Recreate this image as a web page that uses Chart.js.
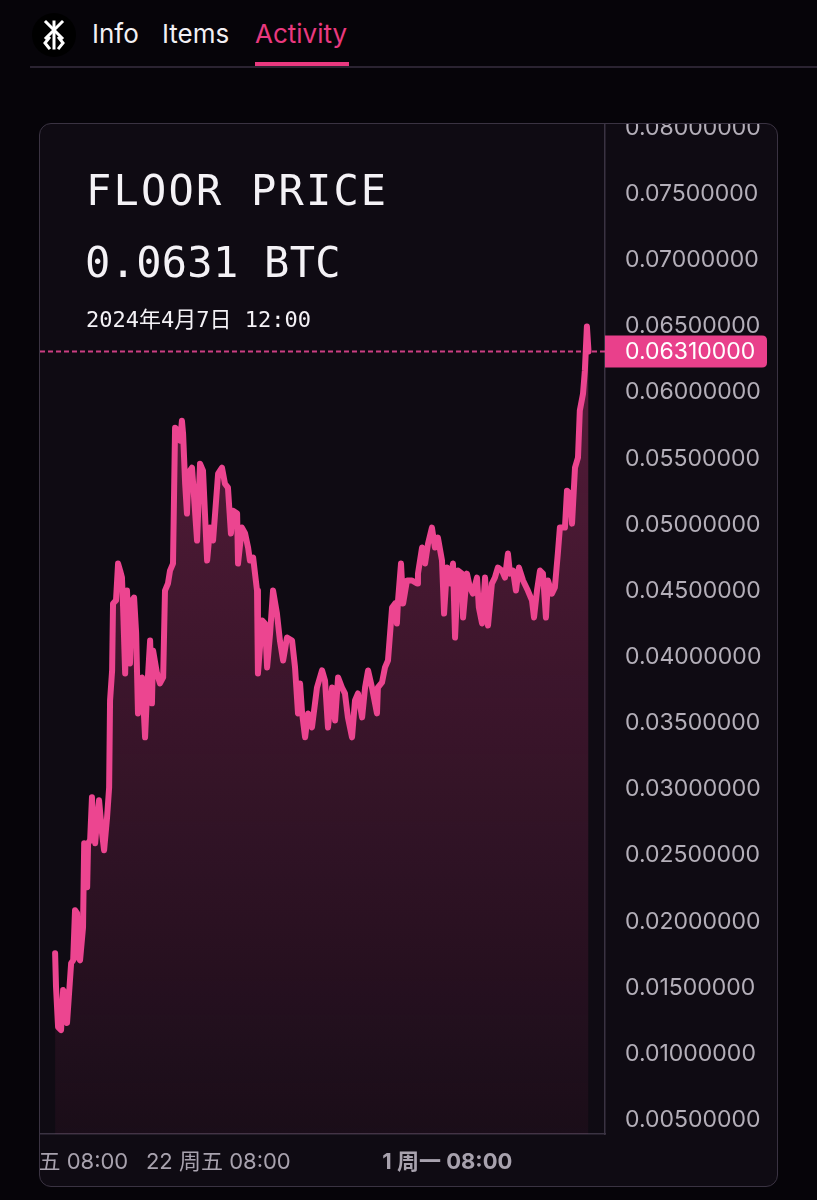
<!DOCTYPE html>
<html>
<head>
<meta charset="utf-8">
<script src="https://cdn.jsdelivr.net/npm/chart.js@4.4.1/dist/chart.umd.min.js"></script>
<style>
  body { margin:0; width:817px; height:1200px; overflow:hidden; position:relative; background:#060409; font-family: Inter, "Noto Sans CJK SC", sans-serif; }
  .tab { position:absolute; top:21px; font-size:26px; line-height:26px; color:#f2f0f4; }
  .tab.active { color:#e9397f; }
  #underline { position:absolute; left:255px; top:62px; width:94px; height:4px; background:#e9397f; }
  #divider { position:absolute; left:30px; right:0; top:66px; height:2px; background:#2a2331; }
  #logo { position:absolute; left:32px; top:13px; }
  #card { position:absolute; left:39px; top:123px; width:739px; height:1064px; box-sizing:border-box;
          border:1px solid #3a3342; border-radius:12px; background:#0f0b13; overflow:hidden; }
  #chart { position:absolute; left:-100px; top:-39px; }
  .mono { position:absolute; font-family:"DejaVu Sans Mono", "Noto Sans CJK SC", monospace; color:#f4f2f6; white-space:nowrap; }
  #title { left:86px; top:170px; font-size:42px; line-height:42px; letter-spacing:2.2px; }
  #price { left:85px; top:242px; font-size:42px; line-height:42px; letter-spacing:0.3px; }
  #date { left:86px; top:309px; font-size:22px; line-height:22px; }
</style>
</head>
<body>
<svg id="logo" width="44" height="44" viewBox="0 0 44 44">
  <circle cx="22" cy="22" r="22" fill="#000"/>
  <g stroke="#fff" stroke-width="3" fill="none" stroke-linecap="square">
    <path d="M22 9 V35"/>
    <path d="M14 9 L30 25 M30 9 L14 25"/>
    <path d="M17 25 L13 30 L17 35 M27 25 L31 30 L27 35"/>
  </g>
</svg>
<div class="tab" style="left:92px">Info</div>
<div class="tab" style="left:162px">Items</div>
<div class="tab active" style="left:255px">Activity</div>
<div id="underline"></div>
<div id="divider"></div>

<div id="card">
  <canvas id="chart" width="837" height="1101"></canvas>
</div>
<div class="mono" id="title">FLOOR PRICE</div>
<div class="mono" id="price"></div>
<div class="mono" id="date">2024年4月7日 12:00</div>

<script>
// days since 15 Mar 08:00
let days = [-0.13,-0.09,0,0.13,0.22,0.31,0.39,0.48,0.57,0.66,0.74,0.83,0.87,0.96,1.09,1.14,1.27,1.31,1.40,1.48,
  1.53,1.62,1.70,1.79,1.92,2.01,2.14,2.23,2.27,2.36,2.40,2.53,2.62,2.71,2.79,2.84,2.93,3.01,3.14,3.23,
  3.32,3.41,3.49,3.58,3.67,3.80,3.89,4.02,4.10,4.15,4.32,4.45,4.59,4.67,4.80,4.89,5.02,5.11,5.24,5.33,
  5.41,5.46,5.55,5.63,5.68,5.76,5.85,5.90,6.07,6.20,6.33,6.51,6.64,6.77,6.99,7.16,7.29,7.42,7.55,7.64,
  7.82,7.86,8.03,8.17,8.30,8.38,8.52,8.69,8.73,8.91,9.04,9.13,9.26,9.39,9.56,9.69,9.83,10.00,10.22,10.35,
  10.48,10.57,10.66,10.79,10.92,11.09,11.31,11.53,11.66,11.79,11.97,12.10,12.23,12.40,12.53,12.66,12.84,12.97,13.10,13.28,
  13.41,13.54,13.71,13.93,13.97,14.15,14.28,14.41,14.59,14.72,14.80,14.85,14.98,15.07,15.24,15.46,15.68,15.72,15.90,16.03,
  16.16,16.33,16.46,16.59,16.77,16.86,16.99,17.12,17.25,17.34,17.47,17.64,17.69,17.86,17.99,18.12,18.30,18.38,18.52,18.65,
  18.78,18.95,19.08,19.21,19.39,19.52,19.65,19.74,19.87,20.00,20.13,20.31,20.52,20.70,20.79,20.92,21.05,21.18,21.31,21.40,
  21.57,21.70,21.83,21.92,22.14,22.23,22.36,22.45,22.58,22.71,22.79,22.93,23.01,23.10,23.17]

let prices = [0.01761,0.01505,0.01202,0.01180,0.01482,0.01459,0.01233,0.01459,0.01686,0.01708,0.02086,0.02063,0.01731,0.01708,0.01958,0.02592,0.02260,0.02592,0.02615,0.02940,
  0.02713,0.02592,0.02766,0.02917,0.02668,0.02539,0.02789,0.03015,0.03672,0.03899,0.04405,0.04428,0.04707,0.04654,0.04601,0.04375,0.03876,0.04503,0.03952,0.04428,
  0.04450,0.04178,0.03574,0.03748,0.03846,0.03393,0.03748,0.04125,0.03650,0.04050,0.03876,0.03801,0.03846,0.04503,0.04556,0.04654,0.04707,0.05734,0.05712,0.05636,
  0.05787,0.05689,0.05311,0.05085,0.05334,0.05409,0.05432,0.05311,0.04881,0.05462,0.05409,0.04730,0.04979,0.04881,0.05387,0.05432,0.05311,0.05281,0.04934,0.05107,
  0.05085,0.04707,0.04979,0.04934,0.04828,0.04730,0.04752,0.04503,0.03876,0.04277,0.04254,0.03922,0.04178,0.04503,0.04329,0.04125,0.03974,0.04148,0.04125,0.03922,
  0.03574,0.03801,0.03574,0.03393,0.03574,0.03468,0.03770,0.03899,0.03823,0.03468,0.03770,0.03521,0.03846,0.03770,0.03725,0.03544,0.03393,0.03672,0.03725,0.03544,
  0.03770,0.03899,0.03770,0.03574,0.03770,0.03808,0.03922,0.03974,0.04375,0.04405,0.04254,0.04428,0.04707,0.04405,0.04579,0.04579,0.04556,0.04631,0.04828,0.04707,
  0.04858,0.04979,0.04828,0.04903,0.04730,0.04329,0.04677,0.04556,0.04707,0.04148,0.04654,0.04631,0.04299,0.04631,0.04526,0.04480,0.04601,0.04375,0.04254,0.04601,
  0.04239,0.04556,0.04601,0.04677,0.04654,0.04601,0.04783,0.04631,0.04654,0.04503,0.04677,0.04579,0.04503,0.04428,0.04299,0.04503,0.04654,0.04631,0.04299,0.04579,
  0.04480,0.04526,0.04783,0.04979,0.04979,0.05258,0.05236,0.05009,0.05432,0.05508,0.05863,0.05991,0.06165,0.06500,0.06310]

let dayTicks = [0, 7, 17]
let dayTickLabels = ["15 周五 08:00", "22 周五 08:00", "1 周一 08:00"]
let priceTicks = [0.005,0.010,0.015,0.020,0.025,0.030,0.035,0.040,0.045,0.050,0.055,0.060,0.065,0.070,0.075,0.080]

let lastPrice = prices[prices.length - 1]
document.getElementById("price").textContent = lastPrice.toFixed(4) + " BTC"

let pink = "#ec4590"
let tickFont = "Inter, 'Noto Sans CJK SC', sans-serif"

let lastPriceMark = {
  id: "lastPriceMark",
  afterDatasetsDraw(chart) {
    let ctx = chart.ctx
    let area = chart.chartArea
    let y = chart.scales.y.getPixelForValue(lastPrice)
    ctx.save()
    ctx.strokeStyle = "rgba(236,72,150,0.85)"
    ctx.lineWidth = 2
    ctx.setLineDash([5, 3])
    ctx.beginPath()
    ctx.moveTo(area.left, y)
    ctx.lineTo(area.right, y)
    ctx.stroke()
    ctx.setLineDash([])
    let w = 162, h = 32, r = 5
    let x0 = area.right
    ctx.fillStyle = "#e9408b"
    ctx.beginPath()
    ctx.moveTo(x0, y - h / 2)
    ctx.lineTo(x0 + w - r, y - h / 2)
    ctx.quadraticCurveTo(x0 + w, y - h / 2, x0 + w, y - h / 2 + r)
    ctx.lineTo(x0 + w, y + h / 2 - r)
    ctx.quadraticCurveTo(x0 + w, y + h / 2, x0 + w - r, y + h / 2)
    ctx.lineTo(x0, y + h / 2)
    ctx.closePath()
    ctx.fill()
    ctx.fillStyle = "#ffffff"
    ctx.font = "23px " + tickFont
    ctx.textAlign = "left"
    ctx.textBaseline = "middle"
    ctx.fillText(lastPrice.toFixed(8), x0 + 20, y + 1)
    ctx.restore()
  }
}

let ctx = document.getElementById("chart")
let myChart = new Chart(ctx, {
  type: "line",
  data: {
    datasets: [{
      data: days.map((d, i) => ({ x: d, y: prices[i] })),
      borderColor: pink,
      borderWidth: 6,
      borderJoinStyle: "round",
      borderCapStyle: "round",
      pointRadius: 0,
      tension: 0,
      fill: "start",
      backgroundColor: (c) => {
        let a = c.chart.chartArea
        if (!a) return "rgba(236,64,140,0.2)"
        let g = c.chart.ctx.createLinearGradient(0, a.top, 0, a.bottom)
        g.addColorStop(0, "rgba(236,64,140,0.40)")
        g.addColorStop(1, "rgba(236,64,140,0.05)")
        return g
      }
    }]
  },
  options: {
    responsive: false,
    animation: false,
    layout: { padding: { top: 40, left: 100, right: 0, bottom: 0 } },
    plugins: { legend: { display: false }, tooltip: { enabled: false } },
    scales: {
      x: {
        type: "linear",
        min: -0.79,
        max: 23.89,
        grid: { display: false, drawTicks: false },
        border: { display: true, color: "#3a3342", width: 1.5 },
        afterBuildTicks: (s) => { s.ticks = dayTicks.map((v, i) => ({ value: v, major: i === 2 })) },
        afterFit: (s) => { s.height = 52 },
        ticks: {
          autoSkip: false,
          maxRotation: 0,
          padding: 15,
          color: "#a8a2ae",
          font: (c) => ({ family: tickFont, size: 22, weight: c.tick && c.tick.major ? "bold" : "normal" }),
          callback: (v, i) => dayTickLabels[i]
        }
      },
      y: {
        position: "right",
        min: 0.00394,
        max: 0.08023,
        grid: { display: false, drawTicks: false },
        border: { display: true, color: "#3a3342", width: 1.5 },
        afterBuildTicks: (s) => { s.ticks = priceTicks.map((v) => ({ value: v })) },
        afterFit: (s) => { s.width = 172 },
        ticks: {
          padding: 20,
          color: "#b4afb9",
          font: { family: tickFont, size: 23 },
          callback: (v) => v.toFixed(8)
        }
      }
    }
  },
  plugins: [lastPriceMark]
})
</script>
</body>
</html>
